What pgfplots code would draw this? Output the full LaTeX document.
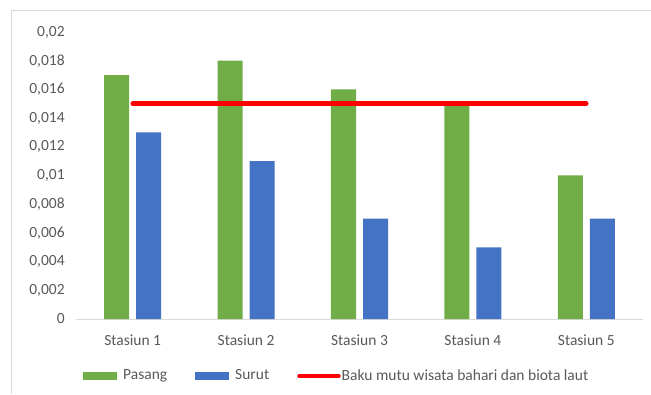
\documentclass[border=0pt]{standalone}
\usepackage{pgfplots}
\pgfplotsset{compat=1.18}
\usepackage{fontspec}
\setmainfont{Carlito}
\definecolor{cgreen}{HTML}{70AD47}
\definecolor{cblue}{HTML}{4472C4}
\definecolor{cred}{HTML}{FF0000}
\definecolor{ctext}{HTML}{595959}
\definecolor{caxis}{HTML}{D9D9D9}
\begin{document}
\fontsize{15.5}{18}\selectfont
\begin{tikzpicture}[x=1pt,y=1pt]
\useasboundingbox (0,0) rectangle (651,394);
\draw[caxis, line width=1pt] (11,0) -- (11,383) -- (651,383);
\begin{axis}[
  at={(76pt,75pt)}, anchor=south west,
  scale only axis, width=567pt, height=287pt,
  xmin=-0.5, xmax=4.5, ymin=0, ymax=0.02,
  scaled y ticks=false,
  ybar=7pt, bar width=25pt,
  axis y line=none,
  axis x line*=bottom,
  x axis line style={caxis, line width=1pt, -},
  xtick={0,1,2,3,4},
  xticklabels={Stasiun 1,Stasiun 2,Stasiun 3,Stasiun 4,Stasiun 5},
  xtick style={draw=none},
  ytick=\empty,
  ticklabel style={font=\fontsize{15.5}{18}\selectfont, text=ctext},
  x tick label style={yshift=-6pt},
  legend style={at={(0.459,-0.199)}, anchor=center, draw=none, fill=none,
    font=\fontsize{15.5}{18}\selectfont, text=ctext, legend columns=3,
    /tikz/every even column/.append style={column sep=27pt},
    nodes={inner xsep=1pt}},
  clip=false,
]
\addplot[fill=cgreen, draw=none, area legend,
  legend image code/.code={\fill[cgreen] (0pt,-4pt) rectangle (34pt,4pt); \path (39pt,0pt);}]
  coordinates {(0,0.017) (1,0.018) (2,0.016) (3,0.015) (4,0.010)};
\addlegendentry{Pasang}
\addplot[fill=cblue, draw=none, area legend,
  legend image code/.code={\fill[cblue] (0pt,-4pt) rectangle (34pt,4pt); \path (39pt,0pt);}]
  coordinates {(0,0.013) (1,0.011) (2,0.007) (3,0.005) (4,0.007)};
\addlegendentry{Surut}
\addplot[sharp plot, cred, line width=4.5pt, line cap=round, mark=none,
  legend image code/.code={\draw[cred, line width=4.5pt] (0pt,0pt) -- (39pt,0pt);}]
  coordinates {(0,0.015) (1,0.015) (2,0.015) (3,0.015) (4,0.015)};
\addlegendentry{Baku mutu wisata bahari dan biota laut}
\end{axis}
\begin{axis}[
  at={(76pt,75pt)}, anchor=south west,
  scale only axis, width=567pt, height=287pt,
  xmin=-0.5, xmax=4.5, ymin=0, ymax=0.02,
  scaled y ticks=false,
  axis x line=none, axis y line*=left,
  y axis line style={draw=none},
  ytick={0,0.002,0.004,0.006,0.008,0.01,0.012,0.014,0.016,0.018,0.02},
  yticklabels={0,{0,002},{0,004},{0,006},{0,008},{0,01},{0,012},{0,014},{0,016},{0,018},{0,02}},
  ytick style={draw=none},
  yticklabel style={font=\fontsize{15.5}{18}\selectfont, text=ctext, xshift=-6pt},
]
\end{axis}
\end{tikzpicture}
\end{document}
